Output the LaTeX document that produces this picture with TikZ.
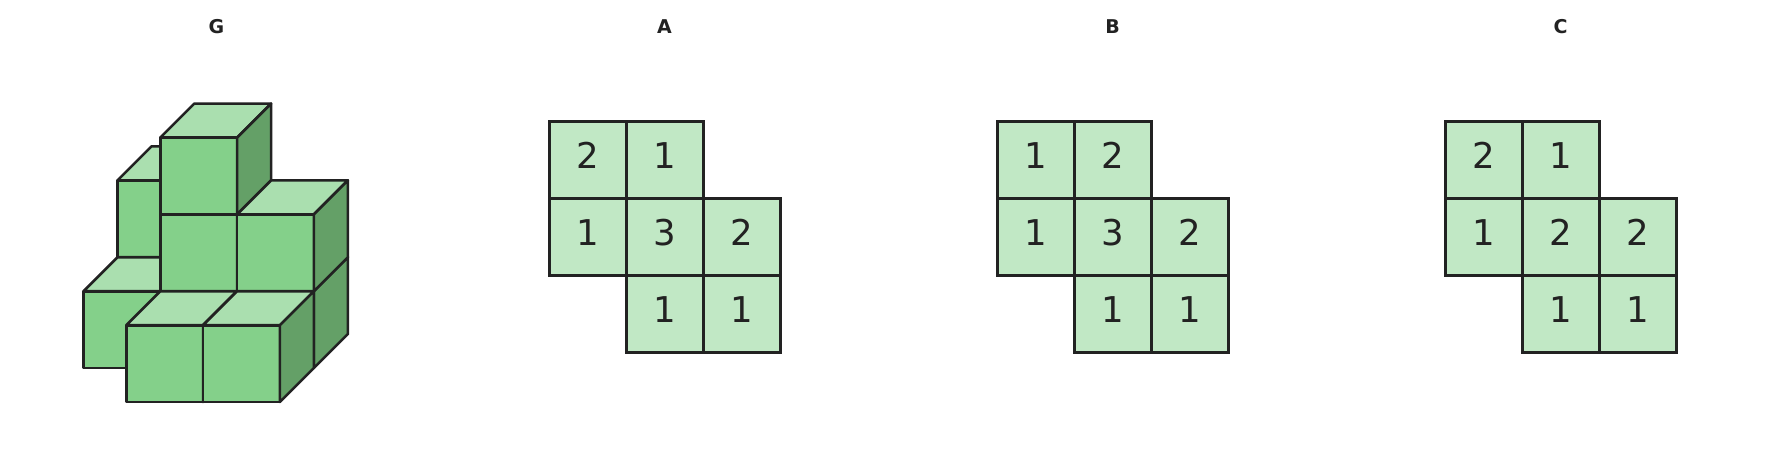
\documentclass[tikz,border=0pt]{standalone}
\usepackage{fontspec}
\setmainfont{DejaVu Sans}
\definecolor{edge}{HTML}{222222}
\definecolor{topc}{HTML}{AADFAF}
\definecolor{frontc}{HTML}{84D08A}
\definecolor{sidec}{HTML}{64A067}
\definecolor{cellc}{HTML}{C1E8C5}
\tikzset{
  face/.style={draw=edge, line width=2.6pt, line join=round},
  cellbox/.style={draw=edge, fill=cellc, line width=2.6pt, minimum size=77pt, inner sep=0pt,
    anchor=north west, text=edge, text depth=8pt, font=\fontsize{35.5}{40}\selectfont},
  titlelab/.style={text=edge, font=\bfseries\fontsize{19}{22}\selectfont, inner sep=0pt}
}
\newcommand{\drawcube}[3]{%
  \fill[topc] (#1,#2,#3+1) -- (#1+1,#2,#3+1) -- (#1+1,#2+1,#3+1) -- (#1,#2+1,#3+1) -- cycle;
  \draw[face] (#1,#2,#3+1) -- (#1+1,#2,#3+1) -- (#1+1,#2+1,#3+1) -- (#1,#2+1,#3+1) -- cycle;
  \fill[frontc] (#1,#2,#3) -- (#1+1,#2,#3) -- (#1+1,#2,#3+1) -- (#1,#2,#3+1) -- cycle;
  \draw[face] (#1,#2,#3) -- (#1+1,#2,#3) -- (#1+1,#2,#3+1) -- (#1,#2,#3+1) -- cycle;
  \fill[sidec] (#1+1,#2,#3) -- (#1+1,#2+1,#3) -- (#1+1,#2+1,#3+1) -- (#1+1,#2,#3+1) -- cycle;
  \draw[face] (#1+1,#2,#3) -- (#1+1,#2+1,#3) -- (#1+1,#2+1,#3+1) -- (#1+1,#2,#3+1) -- cycle;
}
\begin{document}
\begin{tikzpicture}[x=1pt,y=1pt]
\useasboundingbox (0,-452) rectangle (1776,0);
% titles
\node[titlelab] (tG) at (216.5,-26.5) {G};
\node[titlelab] (tA) at (664.5,-26.5) {A};
\node[titlelab] (tB) at (1112.5,-26.5) {B};
\node[titlelab] (tC) at (1560.5,-26.5) {C};
% isometric block
\begin{scope}[shift={(49.5pt,-402pt)}, x={(76.8pt,0pt)}, y={(34pt,34pt)}, z={(0pt,76.8pt)}]
  \drawcube{0}{2}{0}
  \drawcube{0}{2}{1}
  \drawcube{1}{2}{0}
  \drawcube{0}{1}{0}
  \drawcube{1}{1}{0}
  \drawcube{1}{1}{1}
  \drawcube{1}{1}{2}
  \drawcube{2}{1}{0}
  \drawcube{2}{1}{1}
  \drawcube{1}{0}{0}
  \drawcube{2}{0}{0}
\end{scope}
% grid A
\node[cellbox] (a00) at (548,-120) {2};
\node[cellbox] (a10) at (625,-120) {1};
\node[cellbox] (a01) at (548,-197) {1};
\node[cellbox] (a11) at (625,-197) {3};
\node[cellbox] (a21) at (702,-197) {2};
\node[cellbox] (a12) at (625,-274) {1};
\node[cellbox] (a22) at (702,-274) {1};
% grid B
\node[cellbox] (b00) at (996,-120) {1};
\node[cellbox] (b10) at (1073,-120) {2};
\node[cellbox] (b01) at (996,-197) {1};
\node[cellbox] (b11) at (1073,-197) {3};
\node[cellbox] (b21) at (1150,-197) {2};
\node[cellbox] (b12) at (1073,-274) {1};
\node[cellbox] (b22) at (1150,-274) {1};
% grid C
\node[cellbox] (c00) at (1444,-120) {2};
\node[cellbox] (c10) at (1521,-120) {1};
\node[cellbox] (c01) at (1444,-197) {1};
\node[cellbox] (c11) at (1521,-197) {2};
\node[cellbox] (c21) at (1598,-197) {2};
\node[cellbox] (c12) at (1521,-274) {1};
\node[cellbox] (c22) at (1598,-274) {1};
\end{tikzpicture}
\end{document}
